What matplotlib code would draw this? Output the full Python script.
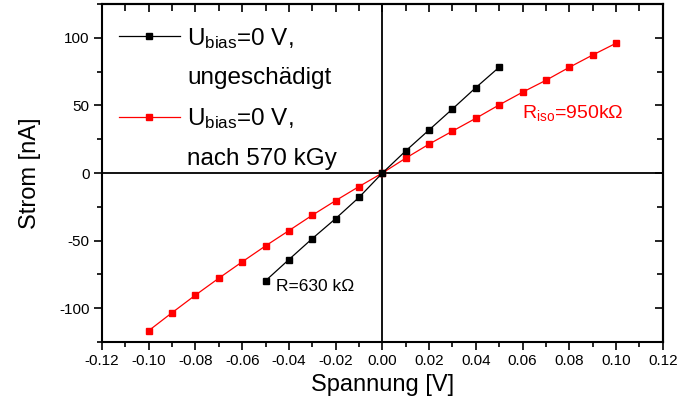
import numpy as np
import matplotlib
matplotlib.use('Agg')
import matplotlib.pyplot as plt
from matplotlib.lines import Line2D
from matplotlib.ticker import MultipleLocator

plt.rcParams['font.family'] = ['Liberation Sans', 'DejaVu Sans']
plt.rcParams['mathtext.fontset'] = 'custom'
plt.rcParams['mathtext.rm'] = 'Liberation Sans'
plt.rcParams['mathtext.it'] = 'Liberation Sans'
plt.rcParams['axes.unicode_minus'] = False

# data
u_black = [-0.05, -0.04, -0.03, -0.02, -0.01, 0.0, 0.01, 0.02, 0.03, 0.04, 0.05]
i_black = [-79.7, -64.0, -48.5, -33.7, -18.0, 0.0, 16.4, 31.9, 47.4, 63.2, 78.3]

u_red = [-0.10, -0.09, -0.08, -0.07, -0.06, -0.05, -0.04, -0.03, -0.02, -0.01, 0.0,
         0.01, 0.02, 0.03, 0.04, 0.05, 0.06, 0.07, 0.08, 0.09, 0.10]
i_red = [-116.6, -103.3, -90.3, -77.8, -65.7, -53.9, -42.6, -31.2, -20.4, -10.0, 0.0,
         11.0, 21.4, 31.0, 40.5, 50.4, 59.8, 68.6, 78.2, 87.3, 96.0]

labels = [r'U$_{\rm bias}$=0 V,', 'ungeschädigt', r'U$_{\rm bias}$=0 V,', 'nach 570 kGy']
xticks = [-0.12, -0.10, -0.08, -0.06, -0.04, -0.02, 0.00, 0.02, 0.04, 0.06, 0.08, 0.10, 0.12]

fig = plt.figure(figsize=(6.77, 4.03), dpi=100)
ax = fig.add_axes([0.1507, 0.1514, 0.8283, 0.8386])

ax.axhline(0, color='black', lw=1.3, zorder=1)
ax.axvline(0, color='black', lw=1.3, zorder=1)

l1, = ax.plot(u_black, i_black, color='black', lw=0.9, marker='s', ms=4.5, zorder=3)
l2, = ax.plot(u_red, i_red, color='red', lw=0.9, marker='s', ms=4.5, zorder=2)

ax.set_xlim(-0.12, 0.12)
ax.set_ylim(-125, 125)
ax.set_xticks(xticks)
ax.set_xticklabels(['%.2f' % v for v in xticks])
ax.xaxis.set_minor_locator(MultipleLocator(0.01))
ax.yaxis.set_major_locator(MultipleLocator(50))
ax.yaxis.set_minor_locator(MultipleLocator(25))
ax.tick_params(which='major', direction='out', length=6, width=1.2, labelsize=11, pad=3)
ax.tick_params(which='minor', direction='out', length=3.5, width=1.2)
for s in ax.spines.values():
    s.set_linewidth(1.5)

# top and right ticks point inwards
top = ax.secondary_xaxis('top')
top.xaxis.set_major_locator(MultipleLocator(0.02))
top.xaxis.set_minor_locator(MultipleLocator(0.01))
top.tick_params(which='both', direction='in', labeltop=False, width=1.2)
top.tick_params(which='major', length=6)
top.tick_params(which='minor', length=5)
right = ax.secondary_yaxis('right')
right.yaxis.set_major_locator(MultipleLocator(50))
right.yaxis.set_minor_locator(MultipleLocator(25))
right.tick_params(which='both', direction='in', labelright=False, width=1.2)
right.tick_params(which='major', length=6)
right.tick_params(which='minor', length=4)
top.spines['top'].set_linewidth(1.5)
right.spines['right'].set_linewidth(1.5)

ax.set_xlabel('Spannung [V]', fontsize=17, labelpad=4)
ax.set_ylabel('Strom [nA]', fontsize=17, labelpad=13)

blank = Line2D([], [], color='none')
ax.legend([l1, blank, l2, blank], labels, loc='upper left', frameon=False,
          fontsize=17.5, handlelength=2.5, handletextpad=0.3, labelspacing=0.69,
          borderaxespad=0.3, bbox_to_anchor=(0.0, 0.986))

ax.text(-0.0455, -84, 'R=630 kΩ', fontsize=12.5, va='center', ha='left')
ax.text(0.0596, 44.3, r'R$_{\rm iso}$=950kΩ', fontsize=14, va='center', ha='left',
        color='red')

fig.savefig('out.png', dpi=100)
